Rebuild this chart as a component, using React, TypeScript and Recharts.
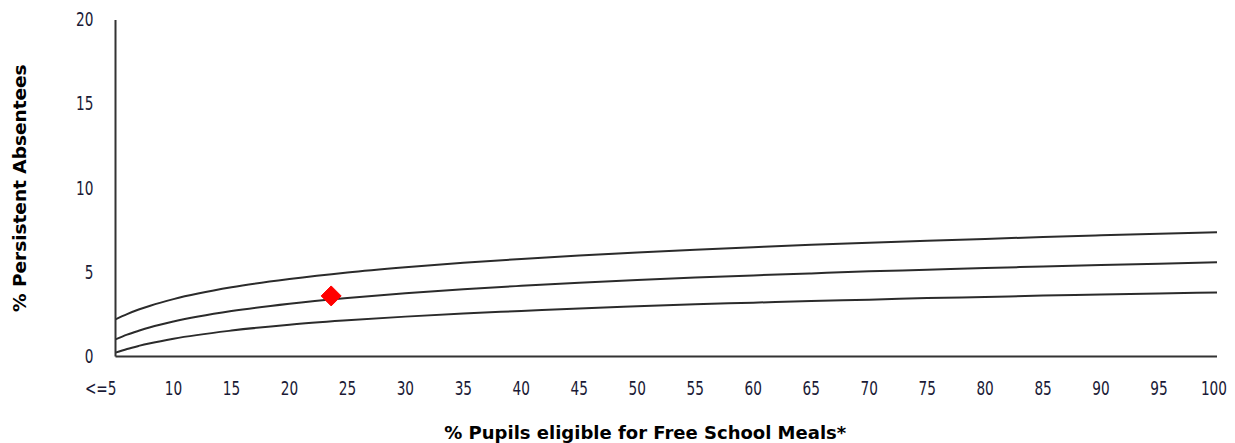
import React from "react";
import { ComposedChart, Line, Scatter, XAxis, YAxis, Label } from "recharts";

const xValues = [5, 6, 7, 8, 10, 15, 20, 25, 30, 35, 40, 45, 50, 55, 60, 65, 70, 75, 80, 85, 90, 95, 100];
const upperBand = [2.21, 2.52, 2.79, 3.02, 3.41, 4.11, 4.6, 4.99, 5.3, 5.57, 5.8, 6.0, 6.18, 6.35, 6.5, 6.64, 6.76, 6.88, 6.99, 7.1, 7.2, 7.29, 7.38];
const middleBand = [1.02, 1.3, 1.53, 1.74, 2.08, 2.7, 3.14, 3.48, 3.76, 4.0, 4.2, 4.38, 4.54, 4.69, 4.82, 4.94, 5.06, 5.16, 5.26, 5.35, 5.44, 5.52, 5.6];
const lowerBand = [0.23, 0.45, 0.63, 0.79, 1.06, 1.54, 1.89, 2.15, 2.37, 2.56, 2.71, 2.86, 2.98, 3.1, 3.2, 3.3, 3.38, 3.47, 3.54, 3.62, 3.68, 3.75, 3.81];

const schoolPoint = [{ x: 23.6, y: 3.6 }];

const xTicks = [5, 10, 15, 20, 25, 30, 35, 40, 45, 50, 55, 60, 65, 70, 75, 80, 85, 90, 95, 100];
const xTickLabels = ["<=5", "10", "15", "20", "25", "30", "35", "40", "45", "50", "55", "60", "65", "70", "75", "80", "85", "90", "95", "100"];
const yTicks = [0, 5, 10, 15, 20];

const xTitle = "% Pupils eligible for Free School Meals*";
const yTitle = "% Persistent Absentees";

const data = xValues.map((x, i) => ({ x, upper: upperBand[i], middle: middleBand[i], lower: lowerBand[i] }));

const tickFont = "'DejaVu Sans', sans-serif";
const titleFont = "'DejaVu Sans', Verdana, sans-serif";
const tickColor = "#1a1a36";

const XTick = (props: any) => {
  const { x, y, payload } = props;
  const idx = xTicks.indexOf(payload.value);
  const label = idx >= 0 ? xTickLabels[idx] : String(payload.value);
  const first = idx === 0;
  const last = idx === xTicks.length - 1;
  const anchor = first || last ? "end" : "middle";
  const tx = first ? x + 1 : last ? x + 10 : x;
  return (
    <g transform={`translate(${tx}, ${y + 24}) scale(0.72, 1)`}>
      <text
        x={0}
        y={0}
        textAnchor={anchor}
        dominantBaseline="central"
        fontFamily={tickFont}
        fontSize={19}
        fill={tickColor}
      >
        {label}
      </text>
    </g>
  );
};

const YTick = (props: any) => {
  const { x, y, payload } = props;
  return (
    <g transform={`translate(${x - 14}, ${y}) scale(0.72, 1)`}>
      <text
        x={0}
        y={0}
        textAnchor="end"
        dominantBaseline="central"
        fontFamily={tickFont}
        fontSize={19}
        fill={tickColor}
      >
        {payload.value}
      </text>
    </g>
  );
};

const Diamond = (props: any) => {
  const { cx, cy } = props;
  const r = 10;
  return (
    <polygon
      points={`${cx},${cy - r} ${cx + r},${cy} ${cx},${cy + r} ${cx - r},${cy}`}
      fill="#ff0000"
      stroke="#ff0000"
      strokeWidth={1}
    />
  );
};

const XTitle = (props: any) => {
  const vb = props.viewBox || {};
  return (
    <text
      x={vb.x + vb.width / 2 - 21}
      y={vb.y + 76}
      textAnchor="middle"
      dominantBaseline="central"
      fontFamily={titleFont}
      fontWeight="bold"
      fontSize={18}
      fill="#000"
    >
      {xTitle}
    </text>
  );
};

const YTitle = (props: any) => {
  const vb = props.viewBox || {};
  const cx = vb.x + 11;
  const cy = vb.y + vb.height / 2;
  return (
    <text
      x={cx}
      y={cy}
      transform={`rotate(-90, ${cx}, ${cy})`}
      textAnchor="middle"
      dominantBaseline="central"
      fontFamily={titleFont}
      fontWeight="bold"
      fontSize={18.5}
      fill="#000"
    >
      {yTitle}
    </text>
  );
};

export default function App() {
  return (
    <div style={{ width: 1219, height: 435 }}>
      <ComposedChart
        width={1219}
        height={435}
        data={data}
        margin={{ top: 12, right: 10, left: 0, bottom: 0 }}
      >
        <XAxis
          dataKey="x"
          type="number"
          domain={[5, 100]}
          ticks={xTicks}
          tick={<XTick />}
          tickLine={false}
          axisLine={{ stroke: "#333", strokeWidth: 2 }}
          height={86.5}
          interval={0}
        >
          <Label content={<XTitle />} />
        </XAxis>
        <YAxis
          type="number"
          domain={[0, 20]}
          ticks={yTicks}
          tick={<YTick />}
          tickLine={false}
          axisLine={{ stroke: "#333", strokeWidth: 2 }}
          width={107.5}
          interval={0}
        >
          <Label content={<YTitle />} />
        </YAxis>
        <Line type="monotone" dataKey="upper" stroke="#2b2b2b" strokeWidth={2} dot={false} isAnimationActive={false} />
        <Line type="monotone" dataKey="middle" stroke="#2b2b2b" strokeWidth={2} dot={false} isAnimationActive={false} />
        <Line type="monotone" dataKey="lower" stroke="#2b2b2b" strokeWidth={2} dot={false} isAnimationActive={false} />
        <Scatter data={schoolPoint} dataKey="y" shape={<Diamond />} isAnimationActive={false} />
      </ComposedChart>
    </div>
  );
}
